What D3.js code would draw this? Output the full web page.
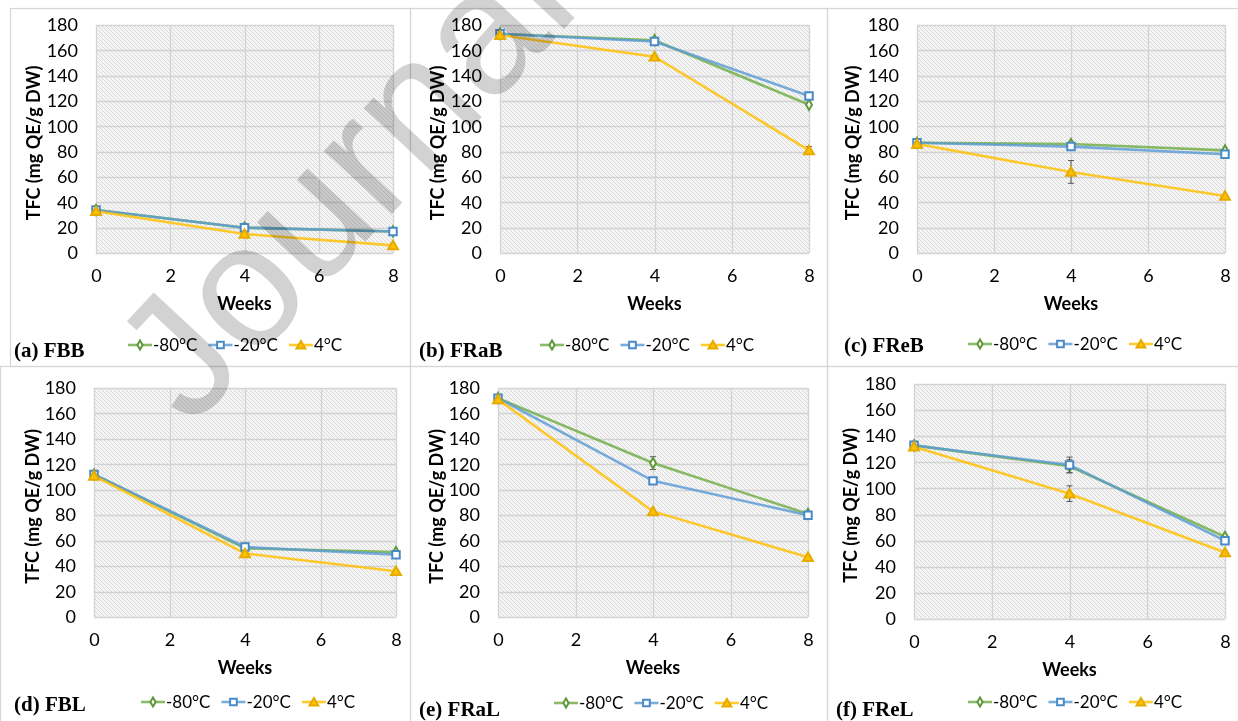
<!DOCTYPE html>
<html>
<head>
<meta charset="utf-8">
<script src="https://cdn.jsdelivr.net/npm/d3@7"></script>
<style>
    body { margin: 0; background: #fff; }
    svg { display: block; }
    .tick-label { font-family: Lato, 'Open Sans', sans-serif; font-size: 18px; fill: #000; }
    .axis-title { font-family: Lato, 'Open Sans', sans-serif; font-size: 18px; font-weight: bold; fill: #000; }
    .legend-text { font-family: Lato, 'Open Sans', sans-serif; font-size: 17px; fill: #000; }
    .panel-label { font-family: 'Liberation Serif', 'Times New Roman', serif; font-size: 21px; font-weight: bold; fill: #000; }
</style>
</head>
<body>
<div class="Canvas"></div>
<script>
// weeks of storage and the three storage temperatures
let weeks = [0, 4, 8];
let seriesNames = ['-80°C', '-20°C', '4°C'];
let xTicks = [0, 2, 4, 6, 8];
let yTicks = [0, 20, 40, 60, 80, 100, 120, 140, 160, 180];
let panelLabels = ['(a) FBB', '(b) FRaB', '(c) FReB', '(d) FBL', '(e) FRaL', '(f) FReL'];

// TFC values per panel, one row per temperature (-80, -20, 4)
let FBB = [[34, 20, 17], [34, 20, 17], [33, 15, 6]];
let FRaB = [[173, 168, 117], [173, 167, 124], [172, 155, 81]];
let FReB = [[87, 86, 81], [87, 84, 78], [86, 64, 45]];
let FBL = [[112, 54, 51], [112, 55, 49], [111, 50, 36]];
let FRaL = [[172, 121, 81], [172, 107, 80], [171, 83, 47]];
let FReL = [[133, 117, 63], [133, 118, 60], [132, 96, 51]];

// standard deviations (most hide under the markers)
let FBB_err = [[1, 1, 1], [1, 1, 1], [1, 1, 1]];
let FRaB_err = [[1, 1, 1], [1, 1, 1], [1, 1, 3]];
let FReB_err = [[1, 1, 1], [1, 1, 1], [1, 9, 1]];
let FBL_err = [[1, 1, 1], [1, 1, 1], [1, 1, 1]];
let FRaL_err = [[1, 5, 1], [1, 1, 1], [1, 1, 1]];
let FReL_err = [[1, 5, 1], [1, 6, 1], [1, 6, 1]];

let panelValues = [FBB, FRaB, FReB, FBL, FRaL, FReL];
let panelErrors = [FBB_err, FRaB_err, FReB_err, FBL_err, FRaL_err, FReL_err];

let width = 1238;
let height = 721;
let colors = ['#70AD47', '#5B9BD5', '#FFC000'];
let markerStroke = ['#5f9a3a', '#4a8ac6', '#e6ab00'];
let markerFill = ['#ffffff', '#ffffff', '#FFC000'];
let markerTypes = [d3.symbolDiamond, d3.symbolSquare, d3.symbolTriangle];
let markerSizes = [30, 56, 42];

// where each panel sits on the page
let layout = [
    { left: 96, right: 393, top: 25, bottom: 253, titleX: 34, labelX: 14, labelY: 357, legendX: 128, legendY: 345 },
    { left: 500, right: 809, top: 25, bottom: 253, titleX: 438, labelX: 419, labelY: 357, legendX: 540, legendY: 345 },
    { left: 917, right: 1225, top: 25, bottom: 253, titleX: 853, labelX: 844, labelY: 352, legendX: 968, legendY: 344 },
    { left: 94, right: 396, top: 388, bottom: 617, titleX: 33, labelX: 14, labelY: 711, legendX: 141, legendY: 702 },
    { left: 498, right: 808, top: 388, bottom: 617, titleX: 437, labelX: 419, labelY: 716, legendX: 554, legendY: 703 },
    { left: 914, right: 1225, top: 384, bottom: 619, titleX: 851, labelX: 836, labelY: 716, legendX: 968, legendY: 702 },
];

let svg = d3.select('.Canvas').append('svg').attr('width', width).attr('height', height);

let defs = svg.append('defs');
let hatch = defs
    .append('pattern')
    .attr('id', 'hatch')
    .attr('patternUnits', 'userSpaceOnUse')
    .attr('width', 4)
    .attr('height', 4);
hatch.append('rect').attr('width', 4).attr('height', 4).attr('fill', '#f5f5f5');
hatch
    .append('path')
    .attr('d', 'M-1,-1 L5,5 M3,-1 L5,1 M-1,3 L1,5')
    .attr('stroke', '#cdcdcd')
    .attr('stroke-width', 0.7);

// panel frames
let frames = [
    [10, 8, 410, 366],
    [410, 8, 827, 366],
    [827, 8, 1240, 366],
    [0, 366, 410, 725],
    [410, 366, 827, 725],
    [827, 366, 1240, 725],
];
svg.selectAll('rect.frame')
    .data(frames)
    .enter()
    .append('rect')
    .attr('class', 'frame')
    .attr('x', (d) => d[0] + 0.5)
    .attr('y', (d) => d[1] + 0.5)
    .attr('width', (d) => d[2] - d[0])
    .attr('height', (d) => d[3] - d[1])
    .attr('fill', 'none')
    .attr('stroke', '#d6d6d6')
    .attr('stroke-width', 1.2);

function drawPanel(i) {
    let p = layout[i];
    let values = panelValues[i];
    let errors = panelErrors[i];
    let g = svg.append('g');

    let x = d3.scaleLinear().domain([0, 8]).range([p.left, p.right]);
    let y = d3.scaleLinear().domain([0, 180]).range([p.bottom, p.top]);

    g.append('rect')
        .attr('x', p.left)
        .attr('y', p.top)
        .attr('width', p.right - p.left)
        .attr('height', p.bottom - p.top)
        .attr('fill', 'url(#hatch)');

    // gridlines
    g.selectAll('line.hgrid')
        .data(yTicks)
        .enter()
        .append('line')
        .attr('x1', p.left)
        .attr('x2', p.right)
        .attr('y1', (d) => Math.round(y(d)) + 0.5)
        .attr('y2', (d) => Math.round(y(d)) + 0.5)
        .attr('stroke', '#d3d3d3')
        .attr('stroke-width', 1.3);
    g.selectAll('line.vgrid')
        .data(xTicks)
        .enter()
        .append('line')
        .attr('y1', p.top)
        .attr('y2', p.bottom)
        .attr('x1', (d) => Math.round(x(d)) + 0.5)
        .attr('x2', (d) => Math.round(x(d)) + 0.5)
        .attr('stroke', '#d3d3d3')
        .attr('stroke-width', 1.3);

    // tick labels through d3 axes, with the axis lines hidden
    let yAxis = g
        .append('g')
        .attr('transform', `translate(${p.left - 6},0)`)
        .call(d3.axisLeft(y).tickValues(yTicks).tickSize(0).tickPadding(12));
    yAxis.select('.domain').remove();
    yAxis.selectAll('text').attr('class', 'tick-label').attr('font-size', null).attr('font-family', null);

    let xAxis = g
        .append('g')
        .attr('transform', `translate(0,${p.bottom + 10})`)
        .call(d3.axisBottom(x).tickValues(xTicks).tickSize(0).tickPadding(6));
    xAxis.select('.domain').remove();
    xAxis.selectAll('text').attr('class', 'tick-label').attr('font-size', null).attr('font-family', null);

    g.append('text')
        .attr('class', 'axis-title')
        .attr('text-anchor', 'middle')
        .attr('x', (p.left + p.right) / 2)
        .attr('y', p.bottom + 57)
        .text('Weeks');

    g.append('text')
        .attr('class', 'axis-title')
        .attr('text-anchor', 'middle')
        .attr('transform', `translate(${p.titleX + 6},${(p.top + p.bottom) / 2 + 4}) rotate(-90)`)
        .text('TFC (mg QE/g DW)');

    let line = d3
        .line()
        .x((d, k) => x(weeks[k]))
        .y((d) => y(d));

    for (let s = 0; s < 3; s++) {
        g.append('path')
            .datum(values[s])
            .attr('d', line)
            .attr('fill', 'none')
            .attr('stroke', colors[s])
            .attr('stroke-opacity', 0.82)
            .attr('stroke-width', 2.6);
    }

    for (let s = 0; s < 3; s++) {
        let pts = values[s].map((v, k) => ({ wk: weeks[k], v: v, e: errors[s][k] }));
        let eb = g.selectAll(null).data(pts).enter().append('g').attr('stroke', '#595959').attr('stroke-width', 1);
        eb.append('line')
            .attr('x1', (d) => x(d.wk))
            .attr('x2', (d) => x(d.wk))
            .attr('y1', (d) => y(d.v - d.e))
            .attr('y2', (d) => y(d.v + d.e));
        eb.append('line')
            .attr('x1', (d) => x(d.wk) - 3)
            .attr('x2', (d) => x(d.wk) + 3)
            .attr('y1', (d) => y(d.v + d.e))
            .attr('y2', (d) => y(d.v + d.e));
        eb.append('line')
            .attr('x1', (d) => x(d.wk) - 3)
            .attr('x2', (d) => x(d.wk) + 3)
            .attr('y1', (d) => y(d.v - d.e))
            .attr('y2', (d) => y(d.v - d.e));

        g.selectAll(null)
            .data(pts)
            .enter()
            .append('path')
            .attr('d', d3.symbol().type(markerTypes[s]).size(markerSizes[s]))
            .attr('transform', (d) => `translate(${x(d.wk)},${y(d.v) + (s == 2 ? 1 : 0)})`)
            .attr('fill', markerFill[s])
            .attr('stroke', markerStroke[s])
            .attr('stroke-width', 2);
    }

    // legend
    let lx = p.legendX;
    for (let s = 0; s < 3; s++) {
        g.append('line')
            .attr('x1', lx)
            .attr('x2', lx + 24)
            .attr('y1', p.legendY)
            .attr('y2', p.legendY)
            .attr('stroke', colors[s])
            .attr('stroke-opacity', 0.82)
            .attr('stroke-width', 2.6);
        g.append('path')
            .attr('d', d3.symbol().type(markerTypes[s]).size(markerSizes[s] * 0.8))
            .attr('transform', `translate(${lx + 12},${p.legendY + (s == 2 ? 1 : 0)})`)
            .attr('fill', markerFill[s])
            .attr('stroke', markerStroke[s])
            .attr('stroke-width', 2);
        let t = g
            .append('text')
            .attr('class', 'legend-text')
            .attr('x', lx + 25)
            .attr('y', p.legendY + 6)
            .text(seriesNames[s]);
        lx += 25 + t.node().getComputedTextLength() + 11;
    }

    svg.append('text')
        .attr('class', 'panel-label')
        .attr('x', p.labelX)
        .attr('y', p.labelY)
        .text(panelLabels[i]);
}

for (let i = 0; i < 6; i++) drawPanel(i);

// journal watermark laid over everything
svg.append('text')
    .attr('transform', 'translate(191,429) rotate(-47)')
    .attr('font-family', "'Liberation Sans', Arial, sans-serif")
    .attr('font-size', 175)
    .attr('fill', '#d2d2d2')
    .style('mix-blend-mode', 'multiply')
    .text('Journal Pre-proof');
</script>
</body>
</html>
